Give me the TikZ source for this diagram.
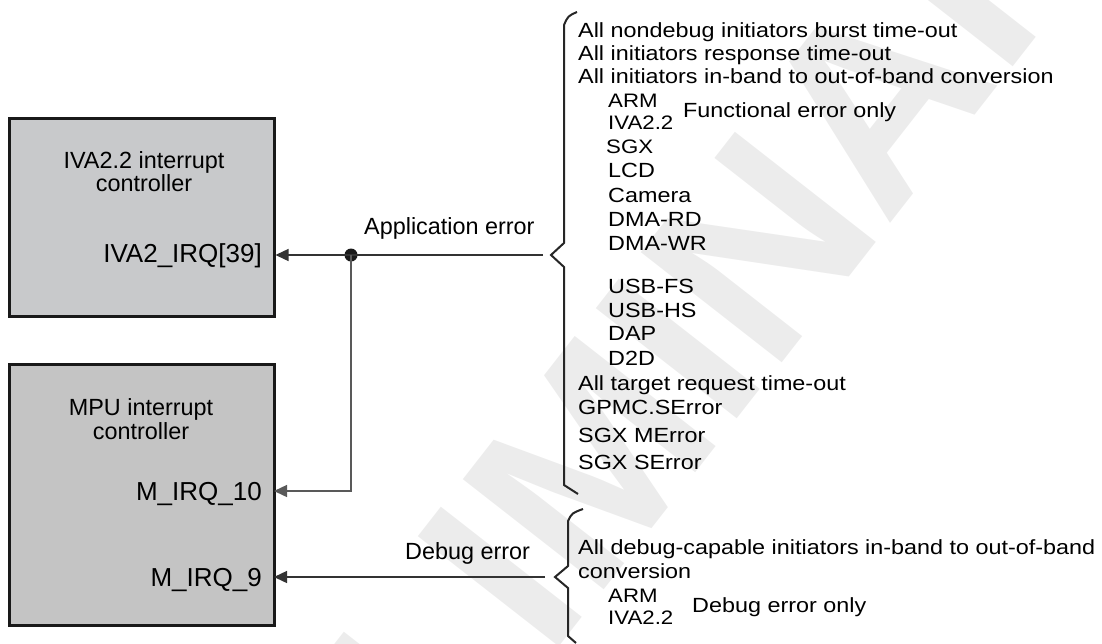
\documentclass[tikz,border=0pt]{standalone}
\usepackage{fontspec}
\setmainfont{Liberation Sans}
\newfontfamily\listfont[FakeStretch=1.14]{Liberation Sans}
\usetikzlibrary{arrows.meta}
\definecolor{boxA}{HTML}{C8C9CB}
\definecolor{boxB}{HTML}{C4C4C4}
\definecolor{wm}{HTML}{ECECEC}
\begin{document}
\begin{tikzpicture}[x=1pt,y=-1pt,
  ctrl/.style={draw=black!90, line width=3pt, minimum width=264.5pt, inner sep=0pt},
  wire/.style={draw=black!80, line width=1.4pt},
  arr/.style={wire, -{Triangle[length=13pt,width=12pt]}},
  brc/.style={draw=black!85, line width=2pt, line join=miter},
  ttl/.style={font=\fontsize{23.4}{23}\selectfont, inner sep=0pt, anchor=base},
  port/.style={font=\fontsize{26}{26}\selectfont, inner sep=0pt, anchor=base east},
  sig/.style={font=\fontsize{23.4}{23}\selectfont, inner sep=0pt, anchor=base west},
  item/.style={font=\listfont\fontsize{20.5}{23}\selectfont, inner sep=0pt, anchor=base west},
  sub/.style={font=\listfont\fontsize{19.5}{20}\selectfont, inner sep=0pt, anchor=base west},
]
\useasboundingbox (0,0) rectangle (1102,643);
\begin{scope}
\clip (0,0) rectangle (1102,643);
\node[rotate=52, text=wm, font=\fontsize{260}{260}\selectfont\bfseries] (wmark) at (600,450) {PRELIMINARY};
\end{scope}

% boxes
\node[ctrl, fill=boxA, minimum height=198pt] (iva) at (141.75,217.5) {};
\node[ctrl, fill=boxB, minimum height=261pt] (mpu) at (141.75,495) {};

\node[ttl] (ivaT1) at (144,168) {IVA2.2 interrupt};
\node[ttl] (ivaT2) at (144,191) {controller};
\node[port] (ivaP) at (262,262) {IVA2\_IRQ[39]};
\node[ttl] (mpuT1) at (141,415) {MPU interrupt};
\node[ttl] (mpuT2) at (141,439) {controller};
\node[port] (m10L) at (262,500) {M\_IRQ\_10};
\node[port] (m9L) at (262,586) {M\_IRQ\_9};

% connectors
\node[circle, fill=black!90, inner sep=0pt, minimum size=13pt] (dot) at (351,255) {};
\coordinate (appEnd) at (543,255);
\coordinate (dbgEnd) at (545,577);
\coordinate (m10) at (274,491);
\coordinate (m9) at (274,577);
\draw[wire] (appEnd) -- (dot.center);
\draw[arr] (dot.center) -- (dot -| iva.east);
\draw[arr, draw=black!65] (dot.center) |- (m10);
\draw[arr] (dbgEnd) -- (m9);

\node[sig] (appL) at (364,234) {Application error};
\node[sig] (dbgL) at (405,559) {Debug error};

% braces
\draw[brc] (577,12) .. controls (568,16) .. (564,25) -- (564,243) -- (551,255) -- (564,267) -- (564,485) -- (578,494);
\draw[brc] (583,509) .. controls (572,513) .. (568,521) -- (568,566) -- (555,577) -- (568,588) -- (568,636) -- (576,643);

% list
\node[item] (l1) at (578,37.5) {All nondebug initiators burst time-out};
\node[item] (l2) at (578,60.5) {All initiators response time-out};
\node[item] (l3) at (578,83.5) {All initiators in-band to out-of-band conversion};
\node[sub] (arm1) at (608,107) {ARM};
\node[sub] (iva1) at (608,129) {IVA2.2};
\node[item] (fun) at (683,117.5) {Functional error only};
\node[sub] (sgx) at (606,153) {SGX};
\node[item] (lcd) at (608,177.5) {LCD};
\node[item] (cam) at (608,202.5) {Camera};
\node[item] (dmard) at (608,226.5) {DMA-RD};
\node[item] (dmawr) at (608,250.5) {DMA-WR};
\node[item] (usbfs) at (608,293.5) {USB-FS};
\node[item] (usbhs) at (608,317.5) {USB-HS};
\node[item] (dap) at (608,340.5) {DAP};
\node[item] (d2d) at (608,365.5) {D2D};
\node[item] (tgt) at (578,390.5) {All target request time-out};
\node[item] (gpmc) at (578,414.5) {GPMC.SError};
\node[item] (sgxm) at (578,442.5) {SGX MError};
\node[item] (sgxs) at (578,469.5) {SGX SError};

\node[item] (dbg1) at (578,554.5) {All debug-capable initiators in-band to out-of-band};
\node[item] (dbg2) at (578,578.5) {conversion};
\node[sub] (arm2) at (608,602) {ARM};
\node[sub] (iva2) at (608,624) {IVA2.2};
\node[item] (dbgonly) at (692,612.5) {Debug error only};
\end{tikzpicture}
\end{document}
